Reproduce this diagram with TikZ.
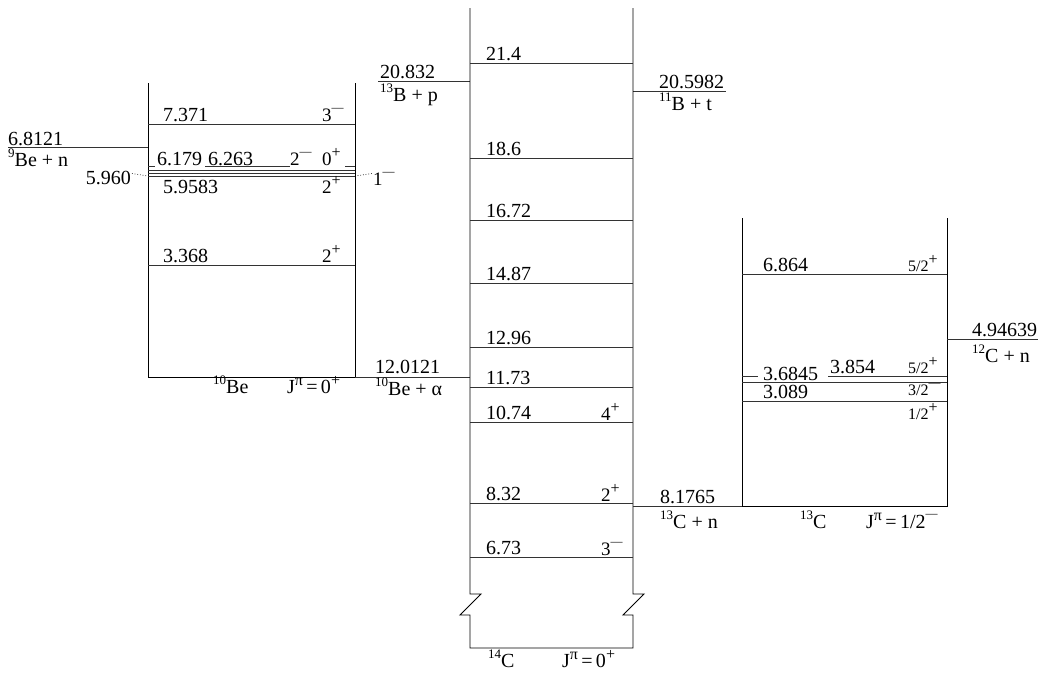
\documentclass[tikz,border=0pt]{standalone}
\usepackage{fontspec}
\usetikzlibrary{calc}
\setmainfont{Liberation Serif}
\newcommand\su[1]{\raisebox{0.42em}{\fontsize{13}{13}\selectfont #1}}
\newcommand\spinplus{\raisebox{0.4em}{\fontsize{16}{16}\selectfont +}}
\newcommand\spinminus{\raisebox{0.52em}{\fontsize{12}{12}\selectfont —}}
\newcommand\Jpi{J\raisebox{0.4em}{\fontsize{16}{16}\selectfont π}\,=\,}
\begin{document}
\begin{tikzpicture}[x=1pt,y=-1pt,
  lvl/.style={line width=0.8pt, black!80},
  boxline/.style={line width=0.9pt, black},
  lab/.style={anchor=base west, inner sep=0pt, font=\fontsize{20}{24}\selectfont},
  labr/.style={anchor=base east, inner sep=0pt, font=\fontsize{20}{24}\selectfont},
  spin/.style={anchor=base west, inner sep=0pt, font=\fontsize{19}{22}\selectfont},
  frac/.style={anchor=base west, inner sep=0pt, font=\fontsize{16}{18}\selectfont},
  dots/.style={dotted, line width=0.7pt}]
\useasboundingbox (0,0) rectangle (1045,675);

% ---------------- 10Be ----------------
\draw[boxline] (148,83) -- (148,377) -- (355,377) -- (355,83);
\draw[lvl] (148,124) -- (355,124);
\node[lab] (be7371) at (163,121) {7.371};
\node[spin] (be7371s) at (322,121) {3\spinminus};
% 6.263 broken line
\draw[lvl] (148,166) -- (155,166);
\draw[lvl] (205,166) -- (290,166);
\draw[lvl] (345,166) -- (355,166);
\node[lab] (be6179) at (157,165) {6.179};
\node[lab] (be6263) at (208,165) {6.263};
\node[spin] (be6263s) at (290,165) {2\spinminus};
\node[spin] (be6179s) at (322,165) {0\spinplus};
\draw[lvl] (148,170.5) -- (355,170.5);
\draw[lvl] (148,173.5) -- (355,173.5);
\draw[lvl] (148,176.5) -- (355,176.5);
\node[lab] (be5958) at (163,193) {5.9583};
\node[spin] (be5958s) at (322,193) {2\spinplus};
\node[labr] (be5960) at (131,184) {5.960};
\coordinate (be5960l) at (148,176);
\draw[dots] ($(be5960.east)+(1,-4)$) -- (be5960l);
\coordinate (be5960r) at (355,176);
\node[spin] (be5960s) at (373,185) {1\spinminus};
\draw[dots] (be5960r) -- ($(be5960s.west)+(-1,-5)$);
\draw[lvl] (148,265) -- (355,265);
\node[lab] (be3368) at (163,262) {3.368};
\node[spin] (be3368s) at (322,262) {2\spinplus};
\node[lab] (bename) at (213,393) {\su{10}Be};
\node[lab] (bej) at (287,393) {\Jpi 0\spinplus};

% 9Be + n
\draw[lvl] (8,147) -- (148,147);
\node[lab] (t1a) at (8,145) {6.8121};
\node[lab] (t1b) at (8,166) {\su{9}Be + n};

% 10Be + alpha
\draw[lvl] (355,377) -- (470,377);
\node[lab] (t2a) at (375,373) {12.0121};
\node[lab] (t2b) at (375,395) {\su{10}Be + α};

% 13B + p
\draw[lvl] (378,81) -- (470,81);
\node[lab] (t3a) at (380,78) {20.832};
\node[lab] (t3b) at (380,101) {\su{13}B + p};

% 11B + t
\draw[lvl] (633,91) -- (726,91);
\node[lab] (t4a) at (659,88) {20.5982};
\node[lab] (t4b) at (659,110) {\su{11}B + t};

% ---------------- 14C ----------------
\draw[boxline] (470,8) -- (470,594) -- (481,594) -- (460,615) -- (470,615) -- (470,648)
  -- (633,648) -- (633,615) -- (623,615) -- (644,594) -- (633,594) -- (633,8);
\foreach \y/\e [count=\i] in {63/21.4,158/18.6,220/16.72,283/14.87,347/12.96,387/11.73,422/10.74,503/8.32,557/6.73}{
  \draw[lvl] (470,\y) -- (633,\y);
  \node[lab] (c\i) at (486,\y-2.5) {\e};
}
\node[spin] (c7s) at (601,420) {4\spinplus};
\node[spin] (c8s) at (601,501) {2\spinplus};
\node[spin] (c9s) at (601,555) {3\spinminus};
\node[lab] (cname) at (488,667) {\su{14}C};
\node[lab] (cj) at (562,667) {\Jpi 0\spinplus};

% 13C + n
\draw[lvl] (633,506) -- (742,506);
\node[lab] (t5a) at (660,503) {8.1765};
\node[lab] (t5b) at (660,528) {\su{13}C + n};

% ---------------- 13C ----------------
\draw[boxline] (742,218) -- (742,506) -- (947,506) -- (947,218);
\draw[lvl] (742,274) -- (947,274);
\node[lab] (d6864) at (763,271) {6.864};
\node[frac] (d6864s) at (908,271) {5/2\spinplus};
\draw[lvl] (742,376) -- (758,376);
\draw[lvl] (828,376) -- (947,376);
\node[lab] (d3685) at (763,380) {3.6845};
\node[lab] (d3854) at (830,373) {3.854};
\node[frac] (d3854s) at (908,373) {5/2\spinplus};
\draw[lvl] (742,382) -- (947,382);
\node[lab] (d3089) at (763,398) {3.089};
\node[frac] (d3089s) at (908,395) {3/2\spinminus};
\draw[lvl] (742,401) -- (947,401);
\node[frac] (d0s) at (908,419) {1/2\spinplus};
\node[lab] (dname) at (800,528) {\su{13}C};
\node[lab] (dj) at (866,528) {\Jpi 1/2\spinminus};

% 12C + n
\draw[lvl] (947,339) -- (1038,339);
\node[lab] (t6a) at (972,336) {4.94639};
\node[lab] (t6b) at (972,362) {\su{12}C + n};
\end{tikzpicture}
\end{document}
